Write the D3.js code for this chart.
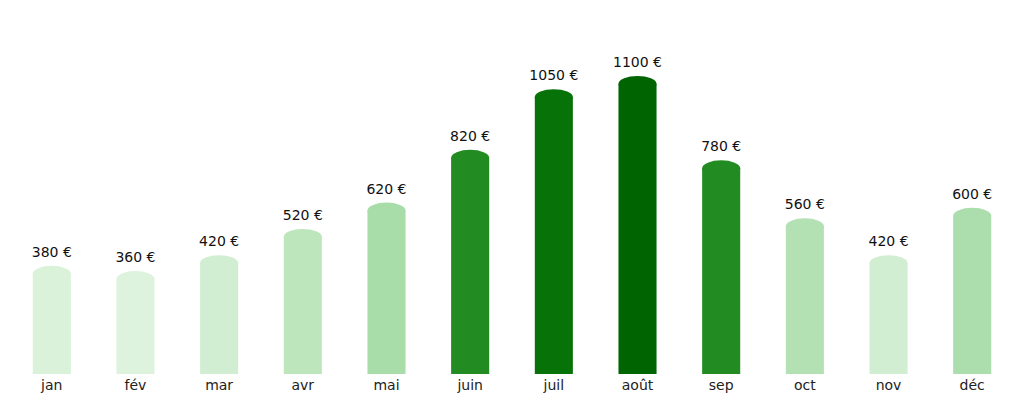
<!DOCTYPE html>
<html><head><meta charset="utf-8">
<script src="https://cdn.jsdelivr.net/npm/d3@7"></script>
<style>body{margin:0;background:#fff}text{font-family:"DejaVu Sans",sans-serif}</style>
</head><body><svg id="chart" width="1024" height="404"></svg>
<script>
var months = ["jan","fév","mar","avr","mai","juin","juil","août","sep","oct","nov","déc"];
var amounts = [380,360,420,520,620,820,1050,1100,780,560,420,600];
var palette = ["#d9f2d9","#ddf3dd","#d2eed2","#bde6bd","#a8dca8","#228b22","#077207","#006400","#228b22","#b3e1b3","#d2eed2","#acddac"];

var svg = d3.select("#chart");
var x = d3.scaleBand().domain(months).range([10, 1014]).paddingInner(0.545).paddingOuter(0.272);
var y = d3.scaleLinear().domain([0, 1100]).range([374, 84]);
var ry = 8;

var g = svg.selectAll("g.bar").data(months).enter().append("g").attr("class", "bar");
g.append("rect")
	.attr("x", function(d) { return x(d); })
	.attr("y", function(d, i) { return y(amounts[i]); })
	.attr("width", x.bandwidth())
	.attr("height", function(d, i) { return y(0) - y(amounts[i]); })
	.attr("fill", function(d, i) { return palette[i]; });
g.append("ellipse")
	.attr("cx", function(d) { return x(d) + x.bandwidth() / 2; })
	.attr("cy", function(d, i) { return y(amounts[i]); })
	.attr("rx", x.bandwidth() / 2)
	.attr("ry", ry)
	.attr("fill", function(d, i) { return palette[i]; });
g.append("text")
	.attr("x", function(d) { return x(d) + x.bandwidth() / 2; })
	.attr("y", function(d, i) { return y(amounts[i]) - ry - 9; })
	.attr("text-anchor", "middle").attr("font-size", 14).attr("fill", "#111")
	.text(function(d, i) { return amounts[i] + " €"; });

var axis = svg.append("g").attr("transform", "translate(0,374)")
	.call(d3.axisBottom(x).tickSize(0).tickPadding(6));
axis.select(".domain").remove();
axis.selectAll("text").attr("font-size", 14).attr("fill", "#222").style("font-family", "DejaVu Sans");
</script></body></html>
